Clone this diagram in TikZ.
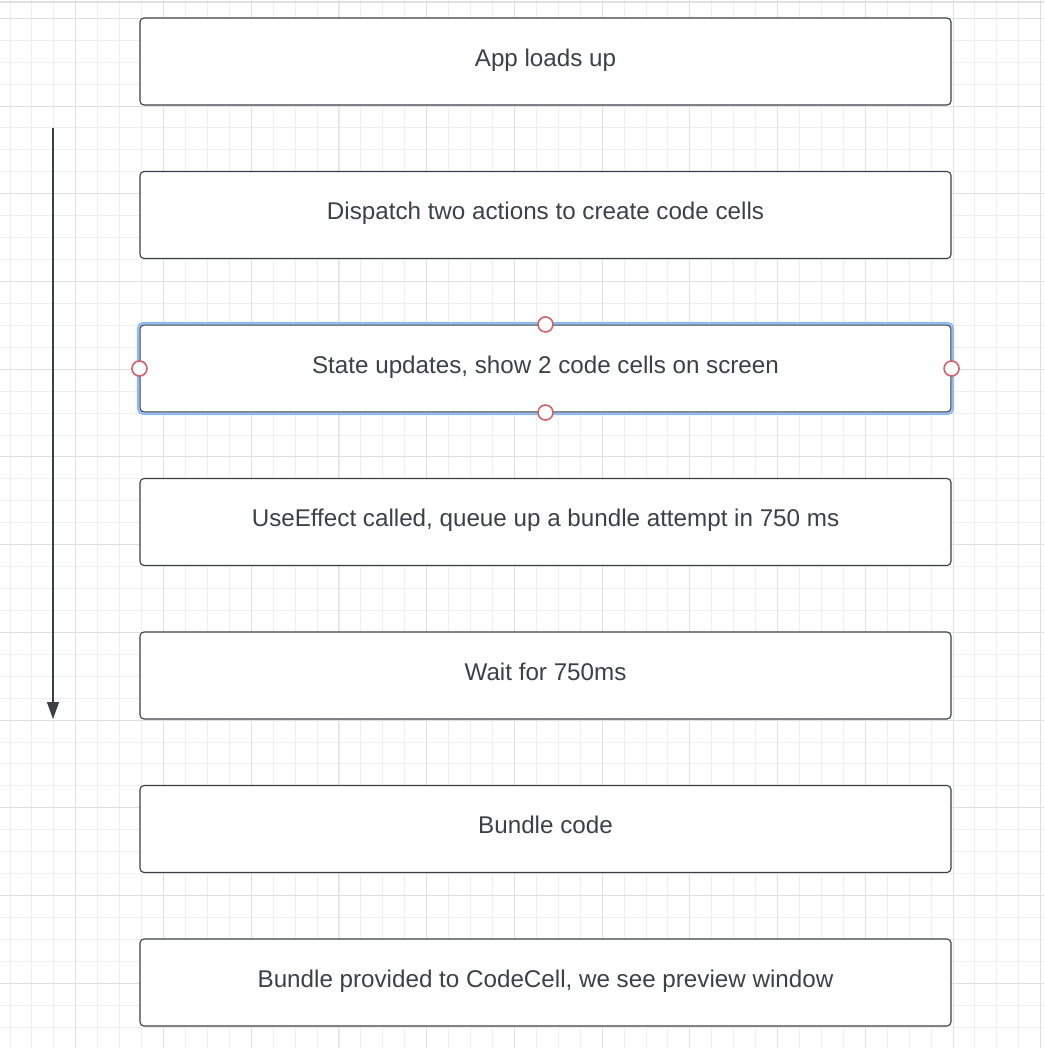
\documentclass[tikz,border=0pt]{standalone}
\usepackage{fontspec}
\setmainfont{Liberation Sans}
\usetikzlibrary{arrows.meta,positioning,fit}
\definecolor{inkgray}{HTML}{3A3E46}
\definecolor{textgray}{HTML}{3C4048}
\definecolor{gridminor}{HTML}{EFEFEF}
\definecolor{gridmajor}{HTML}{E0E0E0}
\definecolor{selblue}{HTML}{90BBF2}
\definecolor{handlered}{HTML}{D2606A}

\tikzset{
  stepbox/.style={draw=inkgray,line width=1.1pt,rounded corners=4pt,fill=white,
    minimum width=811pt,minimum height=87pt,inner sep=0pt,
    text height=17.3pt,text depth=8pt,
    text=textgray,font=\fontsize{24.2}{29}\selectfont},
  handle/.style={circle,draw=handlered,line width=1.6pt,fill=white,
    minimum size=15pt,inner sep=0pt},
}

\begin{document}
\begin{tikzpicture}[x=1pt,y=-1pt,node distance=65.4pt]
    \useasboundingbox (0,0) rectangle (1044,1048);
    \fill[white] (0,0) rectangle (1044,1048);
    % grid
    \foreach \i in {0,...,47} {
      \pgfmathsetmacro{\gx}{10+21.93*\i}
      \pgfmathsetmacro{\gy}{18.3+21.93*\i}
      \draw[gridminor,line width=0.9pt] (\gx,0) -- (\gx,1048);
      \draw[gridminor,line width=0.9pt] (0,\gy) -- (1044,\gy);
    }
    \foreach \i in {0,...,11} {
      \pgfmathsetmacro{\gx}{10+21.93*(4*\i+3)}
      \pgfmathsetmacro{\gy}{18.3+21.93*4*\i}
      \draw[gridmajor,line width=1pt] (\gx,0) -- (\gx,1048);
      \draw[gridmajor,line width=1pt] (0,\gy) -- (1044,\gy);
    }
    \draw[gridmajor,line width=2pt] (0,2.5) -- (1044,2.5);

    \node[stepbox] (load) at (545.5,61.5) {App loads up};
    \node[stepbox,below=of load] (dispatch) {Dispatch two actions to create code cells};
    \node[stepbox,below=of dispatch] (state) {State updates, show 2 code cells on screen};
    \node[stepbox,below=of state] (effect) {UseEffect called, queue up a bundle attempt in 750 ms};
    \node[stepbox,below=of effect] (wait) {Wait for 750ms};
    \node[stepbox,below=of wait] (bundle) {Bundle code};
    \node[stepbox,below=of bundle] (preview) {Bundle provided to CodeCell, we see preview window};

    % selection of the third box
    \node[fit=(state),inner sep=1.3pt,draw=selblue,line width=2.4pt,rounded corners=5pt] (sel) {};
    \node[handle] (hn) at (state.north) {};
    \node[handle] (hs) at (state.south) {};
    \node[handle] (hw) at (state.west) {};
    \node[handle] (he) at (state.east) {};

    % time axis
    \coordinate (tstart) at (53,128);
    \coordinate (tend) at (53,719);
    \draw[inkgray,line width=1.1pt,-{Triangle[length=17pt,width=12pt]}] (tstart) -- (tend);
  \end{tikzpicture}
\end{document}
